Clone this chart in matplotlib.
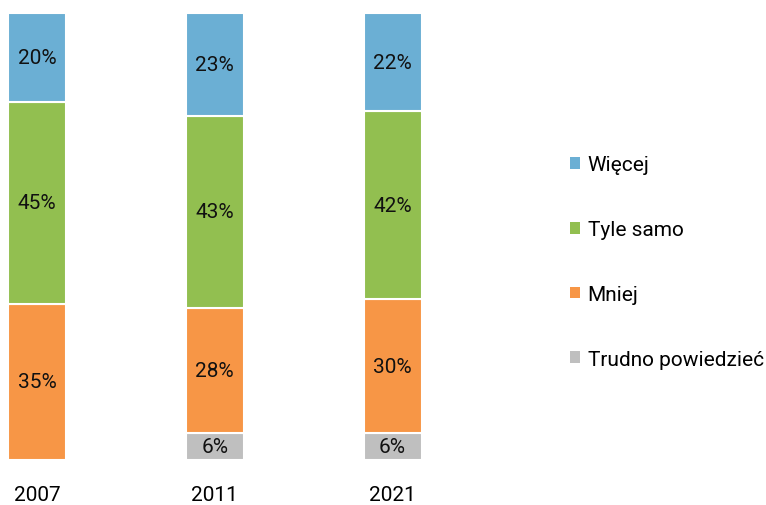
import numpy as np
import matplotlib.pyplot as plt
from matplotlib.patches import Patch

plt.rcParams['font.family'] = ['Roboto', 'DejaVu Sans']

years = ['2007', '2011', '2021']
trudno = [0, 6, 6]
mniej = [35, 28, 30]
tyle = [45, 43, 42]
wiecej = [20, 23, 22]

names = ['Trudno powiedzieć', 'Mniej', 'Tyle samo', 'Więcej']
colors = ['#BFBFBF', '#F79646', '#92BF50', '#6BAFD4']
series = [trudno, mniej, tyle, wiecej]

W, H = 766, 506
fig = plt.figure(figsize=(W / 100, H / 100), dpi=100)
ax = fig.add_axes([8 / W, 45 / H, 413.5 / W, 447 / H])

x = np.arange(len(years))
bottom = np.zeros(len(years))
for vals, col in zip(series, colors):
    vals = np.array(vals, dtype=float)
    ax.bar(x, vals, 0.326, bottom=bottom, color=col, edgecolor='white', linewidth=1.5)
    for xi, b, v in zip(x, bottom, vals):
        if v > 0:
            ax.text(xi, b + v / 2, f'{int(v)}%', ha='center', va='center', fontsize=15, color='#111111')
    bottom += vals

ax.set_xlim(-0.163, 2.163)
ax.set_ylim(0, 100)
ax.set_xticks(x)
ax.set_xticklabels(years, fontsize=15)
ax.tick_params(axis='x', length=0, pad=18)
ax.set_yticks([])
for s in ax.spines.values():
    s.set_visible(False)

handles = [Patch(facecolor=c, edgecolor='none') for c in colors[::-1]]
fig.legend(handles, names[::-1], loc='center left', bbox_to_anchor=(570 / W, 1 - 263 / H),
           frameon=False, fontsize=15, handlelength=0.5, handleheight=0.5,
           handletextpad=0.35, labelspacing=2.2, borderaxespad=0, borderpad=0)

fig.savefig('out.png', dpi=100)
